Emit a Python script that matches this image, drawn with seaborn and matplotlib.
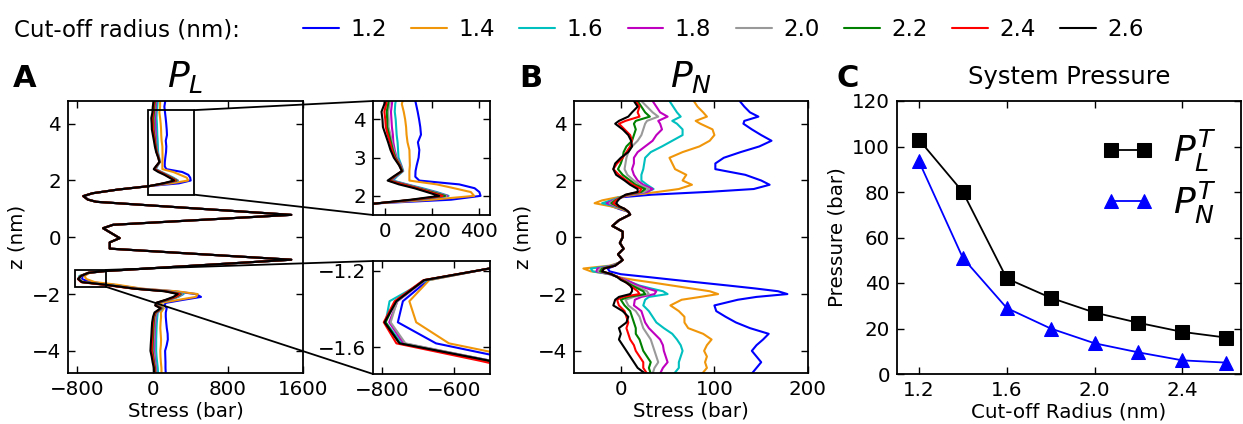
import numpy as np
import pandas as pd
import matplotlib
matplotlib.use("Agg")
import matplotlib.pyplot as plt
import seaborn as sns
from matplotlib.patches import Rectangle, ConnectionPatch
from matplotlib.lines import Line2D

# ---------------------------------------------------------------- data
radii = [1.2, 1.4, 1.6, 1.8, 2.0, 2.2, 2.4, 2.6]
radius_labels = ["1.2", "1.4", "1.6", "1.8", "2.0", "2.2", "2.4", "2.6"]
colors = ["#0000ff", "#f0960a", "#00bfbf", "#bf00bf", "#999999", "#008000", "#ff0000", "#000000"]

# lateral stress profile P_L(z) (bar)
z_lateral = [4.8, 4.6, 4.4, 4.2, 4.0, 3.8, 3.6, 3.4, 3.2, 3.0,
             2.8, 2.65, 2.5, 2.4, 2.3, 2.2, 2.1, 2.0, 1.9, 1.8,
             1.68, 1.55, 1.45, 1.33, 1.25, 0.79, 0.44, 0.32, -0.03, -0.18,
             -0.4, -0.79, -1.19, -1.25, -1.36, -1.47, -1.58, -1.67, -1.81, -1.9,
             -2.0, -2.1, -2.2, -2.31, -2.4, -2.5, -2.65, -2.8, -3.0, -3.2,
             -3.4, -3.6, -3.8, -4.0, -4.2, -4.4, -4.6, -4.8]
pl_12 = [135, 125, 132, 139, 145, 150, 153, 140, 146, 143,
         135, 130, 129, 146, 315, 380, 400, 405, 280, -50,
         -371, -640, -725, -690, -600, 1475, -420, -527, -350, -456,
         -456, 1475, -504, -672, -742, -756, -650, -420, -130, 230,
         460, 515, 330, 140, 125, 150, 140, 140, 145, 151,
         160, 162, 150, 133, 135, 137, 137, 140]
pl_14 = [80, 80, 72, 80, 86, 90, 92, 96, 104, 105,
         106, 104, 104, 104, 220, 293, 364, 378, 200, -50,
         -371, -640, -730, -690, -600, 1475, -420, -527, -350, -456,
         -456, 1475, -504, -669, -724, -705, -614, -380, -110, 250,
         480, 460, 280, 90, 80, 120, 88, 90, 85, 82,
         86, 90, 88, 82, 84, 88, 94, 95]
pl_16 = [55, 50, 44, 42, 46, 48, 50, 54, 56, 58,
         70, 78, 50, 35, 95, 160, 220, 270, 140, -40,
         -371, -640, -738, -690, -600, 1475, -420, -527, -350, -456,
         -456, 1475, -504, -675, -779, -790, -745, -500, -170, 165,
         330, 275, 175, 55, 50, 105, 55, 50, 45, 42,
         40, 38, 38, 38, 42, 48, 55, 58]
pl_18 = [40, 34, 30, 26, 28, 30, 34, 36, 42, 50,
         68, 76, 45, 28, 90, 150, 210, 265, 135, -40,
         -371, -640, -738, -690, -600, 1475, -420, -527, -350, -456,
         -456, 1475, -504, -680, -757, -780, -740, -500, -180, 155,
         315, 265, 170, 50, 44, 100, 46, 32, 28, 24,
         22, 20, 18, 16, 22, 28, 36, 38]
pl_20 = [30, 24, 20, 14, 16, 16, 24, 30, 38, 48,
         66, 75, 42, 24, 85, 145, 205, 260, 130, -40,
         -371, -640, -738, -690, -600, 1475, -420, -527, -350, -456,
         -456, 1475, -504, -682, -758, -776, -735, -500, -185, 150,
         310, 260, 165, 48, 40, 98, 40, 25, 20, 16,
         14, 10, 8, 6, 14, 20, 30, 32]
pl_22 = [24, 18, 14, 8, 10, 10, 18, 26, 34, 45,
         64, 74, 40, 20, 80, 140, 200, 255, 125, -40,
         -371, -640, -738, -690, -600, 1475, -420, -527, -350, -456,
         -456, 1475, -504, -683, -762, -790, -752, -510, -195, 140,
         300, 250, 160, 45, 36, 95, 34, 18, 12, 8,
         6, 2, 0, -2, 6, 14, 25, 28]
pl_24 = [18, 10, 6, -2, 2, 4, 12, 22, 30, 42,
         62, 72, 38, 16, 75, 135, 190, 245, 120, -40,
         -371, -640, -740, -690, -600, 1475, -420, -527, -350, -456,
         -456, 1475, -504, -685, -765, -795, -760, -530, -200, 135,
         290, 240, 150, 42, 32, 90, 28, 12, 5, 0,
         -2, -5, -8, -10, 0, 8, 20, 22]
pl_26 = [10, 2, -2, -14, -10, -8, 3, 14, 24, 38,
         60, 72, 35, 12, 60, 125, 178, 230, 110, -40,
         -371, -640, -738, -690, -600, 1475, -420, -527, -350, -456,
         -456, 1475, -504, -683, -760, -793, -751, -504, -193, 126,
         268, 220, 140, 37, 27, 85, 20, 5, -5, -9,
         -12, -16, -20, -23, -10, 0, 13, 15]

# normal stress profile P_N(z) (bar)
z_normal = [4.8, 4.6, 4.4, 4.25, 4.1, 4.0, 3.8, 3.6, 3.4, 3.2,
            3.0, 2.8, 2.6, 2.4, 2.2, 2.0, 1.85, 1.7, 1.6, 1.5,
            1.4, 1.3, 1.2, 1.1, 1.0, 0.9, 0.8, 0.6, 0.4, 0.2,
            0.0, -0.2, -0.4, -0.6, -0.8, -0.9, -1.0, -1.1, -1.2, -1.3,
            -1.4, -1.5, -1.6, -1.7, -1.8, -1.9, -2.0, -2.1, -2.2, -2.4,
            -2.6, -2.8, -3.0, -3.2, -3.4, -3.6, -3.8, -4.0, -4.2, -4.4,
            -4.6, -4.8]
pn_12 = [127, 132, 138, 147, 132, 131, 140, 150, 161, 148,
         128, 110, 101, 101, 133, 150, 159, 142, 94, 33,
         -3, -10, -17, -10, -2, 8, 10, -2, -9, 2,
         2, -1, 3, -3, 2, -2, -6, -14, -12, 0,
         29, 57, 86, 115, 143, 168, 178, 145, 125, 100,
         102, 112, 123, 138, 158, 152, 145, 140, 145, 150,
         145, 140]
pn_14 = [78, 82, 88, 92, 80, 85, 98, 100, 95, 84,
         66, 52, 55, 58, 70, 66, 76, 62, 40, 15,
         -5, -20, -28, -12, 0, 8, 10, -2, -9, 2,
         2, -1, 3, -3, 2, -2, -12, -40, -32, -10,
         -4, 14, 35, 55, 75, 95, 104, 85, 65, 53,
         62, 68, 68, 72, 88, 97, 92, 89, 92, 90,
         92, 87]
pn_16 = [52, 56, 60, 64, 55, 60, 66, 66, 55, 44,
         32, 26, 25, 24, 22, 22, 28, 35, 28, 8,
         -2, -10, -20, -8, 3, 8, 10, -2, -9, 2,
         2, -1, 3, -3, 2, -2, -10, -32, -30, -12,
         -3, 5, 12, 20, 32, 45, 50, 30, 26, 24,
         30, 34, 38, 46, 55, 60, 64, 66, 64, 62,
         62, 57]
pn_18 = [34, 38, 42, 50, 40, 42, 44, 38, 34, 26,
         18, 14, 14, 12, 14, 18, 24, 34, 28, 9,
         0, -8, -15, -6, 4, 8, 10, -2, -9, 2,
         2, -1, 3, -3, 2, -2, -9, -25, -26, -12,
         -3, 5, 12, 18, 28, 38, 36, 22, 15, 14,
         22, 24, 26, 30, 36, 42, 45, 46, 48, 50,
         45, 42]
pn_20 = [22, 28, 34, 40, 28, 26, 24, 22, 18, 12,
         8, 6, 5, 4, 7, 14, 20, 30, 25, 8,
         0, -7, -12, -5, 4, 8, 10, -2, -9, 2,
         2, -1, 3, -3, 2, -2, -8, -22, -24, -11,
         -3, 3, 8, 14, 22, 28, 30, 14, 5, 8,
         16, 20, 22, 24, 28, 32, 34, 36, 38, 40,
         36, 34]
pn_22 = [18, 22, 26, 31, 16, 14, 16, 14, 12, 6,
         3, 2, 0, -3, 2, 10, 16, 26, 22, 7,
         0, -6, -10, -4, 4, 8, 10, -2, -9, 2,
         2, -1, 3, -3, 2, -2, -7, -20, -22, -10,
         -3, 2, 7, 12, 18, 24, 26, 8, 0, 4,
         10, 12, 14, 16, 16, 20, 22, 24, 28, 32,
         30, 32]
pn_24 = [16, 20, 18, 20, 5, -2, 4, 10, 12, 10,
         6, 2, -4, -8, -2, 6, 13, 22, 20, 6,
         0, -5, -8, -3, 4, 8, 10, -2, -9, 2,
         2, -1, 3, -3, 2, -2, -6, -18, -20, -10,
         -3, 2, 6, 10, 14, 18, 20, 2, -4, -2,
         4, 6, 8, 6, 8, 10, 14, 16, 20, 24,
         24, 28]
pn_26 = [14, 18, 12, 8, -2, -6, 2, 8, 11, 12,
         8, 0, -6, -8, -5, 4, 10, 18, 18, 5,
         0, -3, -5, -2, 4, 8, 10, -2, -9, 2,
         2, -1, 3, -3, 2, -2, -6, -18, -20, -10,
         -4, 0, 6, 10, 12, 12, 10, -2, -6, -8,
         2, 8, 6, -2, 0, -2, 2, 6, 10, 14,
         18, 26]

# total system pressure vs cut-off radius (bar)
pl_total = [103, 80, 42, 33.5, 27, 22.5, 18.5, 16]
pn_total = [93.5, 51, 29, 20, 13.5, 9.5, 6, 5]

# zoom windows shown in the insets: (stress range, z range)
upper_window = ((-50, 445), (1.5, 4.48))
lower_window = ((-825, -500), (-1.74, -1.15))

# ---------------------------------------------------------------- tidy frames
pl_series = [pl_12, pl_14, pl_16, pl_18, pl_20, pl_22, pl_24, pl_26]
pn_series = [pn_12, pn_14, pn_16, pn_18, pn_20, pn_22, pn_24, pn_26]


def long_frame(z, series):
    parts = [pd.DataFrame({"z": z, "stress": vals, "radius": lab})
             for lab, vals in zip(radius_labels, series)]
    return pd.concat(parts, ignore_index=True)


lateral = long_frame(z_lateral, pl_series)
normal = long_frame(z_normal, pn_series)

# ---------------------------------------------------------------- style
sns.set_style("ticks")
plt.rcParams["font.family"] = ["DejaVu Sans"]
plt.rcParams["mathtext.fontset"] = "dejavusans"
plt.rcParams["axes.linewidth"] = 1.3
plt.rcParams["axes.unicode_minus"] = True
for key in ("text.color", "axes.labelcolor", "xtick.color", "ytick.color",
            "axes.edgecolor"):
    plt.rcParams[key] = "black"

FS = 14.3
LW = 1.5
palette = dict(zip(radius_labels, colors))

fig = plt.figure(figsize=(12.43, 4.24), dpi=100)
W, H = 1243.0, 424.0


def box(x0, y0, x1, y1):
    return [x0 / W, 1 - y1 / H, (x1 - x0) / W, (y1 - y0) / H]


axA = fig.add_axes(box(68, 101, 303, 373))
axU = fig.add_axes(box(373, 101, 490, 215))
axL = fig.add_axes(box(373, 261, 490, 374))
axB = fig.add_axes(box(574, 101, 808, 373))
axC = fig.add_axes(box(897, 101, 1241, 374))


def style_axes(ax):
    ax.tick_params(direction="in", top=True, right=True, length=5, width=1,
                   labelsize=FS, pad=5, colors="black")
    for s in ax.spines.values():
        s.set_linewidth(1.3)
        s.set_color("black")


def draw_profiles(ax, frame):
    sns.lineplot(data=frame, x="stress", y="z", hue="radius", hue_order=radius_labels,
                 palette=palette, orient="y", estimator=None, lw=LW,
                 legend=False, ax=ax)


# ---- panel A: lateral profile with two zoomed insets
for ax in (axA, axU, axL):
    draw_profiles(ax, lateral)
    style_axes(ax)
    ax.set_xlabel("")
    ax.set_ylabel("")

axA.set_xlim(-900, 1600)
axA.set_ylim(-4.78, 4.8)
axA.set_xticks([-800, 0, 800, 1600])
axA.set_yticks([-4, -2, 0, 2, 4])
axA.set_xlabel("Stress (bar)", fontsize=FS, labelpad=2)
axA.set_ylabel("z (nm)", fontsize=FS, labelpad=4)
axA.set_title(r"$P_L$", fontsize=26, pad=10)

(ux, uy), (lx, ly) = upper_window, lower_window
axU.set_xlim(*ux)
axU.set_ylim(*uy)
axU.set_xticks([0, 200, 400])
axU.set_yticks([2, 3, 4])
axL.set_xlim(*lx)
axL.set_ylim(*ly)
axL.set_xticks([-800, -600])
axL.set_yticks([-1.6, -1.2])

for (wx, wy), ins in ((upper_window, axU), (lower_window, axL)):
    axA.add_patch(Rectangle((wx[0], wy[0]), wx[1] - wx[0], wy[1] - wy[0],
                            fill=False, ec="black", lw=1.3, zorder=5))
    for corner_y, frac_y in ((wy[1], 1), (wy[0], 0)):
        con = ConnectionPatch(xyA=(wx[1], corner_y), coordsA=axA.transData,
                              xyB=(0, frac_y), coordsB=ins.transAxes,
                              color="black", lw=1.3)
        fig.add_artist(con)

# ---- panel B: normal profile
draw_profiles(axB, normal)
style_axes(axB)
axB.set_xlim(-50, 200)
axB.set_ylim(-4.78, 4.8)
axB.set_xticks([0, 100, 200])
axB.set_yticks([-4, -2, 0, 2, 4])
axB.set_xlabel("Stress (bar)", fontsize=FS, labelpad=2)
axB.set_ylabel("z (nm)", fontsize=FS, labelpad=4)
axB.set_title(r"$P_N$", fontsize=26, pad=10)

# ---- panel C: total pressure
sns.lineplot(x=radii, y=pl_total, marker="s", color="black", markersize=9.5,
             markeredgecolor="black", lw=1.3, label=r"$P_L^T$", ax=axC)
sns.lineplot(x=radii, y=pn_total, marker="^", color="blue", markersize=9.5,
             markeredgecolor="blue", lw=1.3, label=r"$P_N^T$", ax=axC)
style_axes(axC)
axC.set_xlim(1.1, 2.667)
axC.set_ylim(0, 120)
axC.set_xticks([1.2, 1.6, 2.0, 2.4])
axC.set_yticks([0, 20, 40, 60, 80, 100, 120])
axC.set_xlabel("Cut-off Radius (nm)", fontsize=FS, labelpad=2)
axC.set_ylabel("Pressure (bar)", fontsize=FS, labelpad=4)
axC.set_title("System Pressure", fontsize=17.5, pad=12)
axC.legend(numpoints=2, fontsize=26, frameon=False, loc="upper right",
           bbox_to_anchor=(0.99, 0.98), handlelength=1.5, handletextpad=0.5,
           borderaxespad=0.2, labelspacing=0.15)

# ---- panel letters
for letter, x in (("A", 13), ("B", 519), ("C", 836)):
    fig.text(x / W, 1 - 87 / H, letter, fontsize=22, fontweight="bold",
             ha="left", va="baseline")

# ---- shared colour key for the cut-off radius
KEY_FS = 16.5
fig.text(14 / W, 1 - 30 / H, "Cut-off radius (nm):", fontsize=KEY_FS,
         ha="left", va="center")
handles = [Line2D([], [], color=c, lw=LW) for c in colors]
fig.legend(handles, radius_labels, loc="center left",
           bbox_to_anchor=(303 / W, 1 - 30 / H), ncol=8, frameon=False,
           fontsize=KEY_FS, handlelength=1.55, handletextpad=0.5,
           columnspacing=1.08, borderaxespad=0, borderpad=0)

fig.savefig("out.png", dpi=100)
